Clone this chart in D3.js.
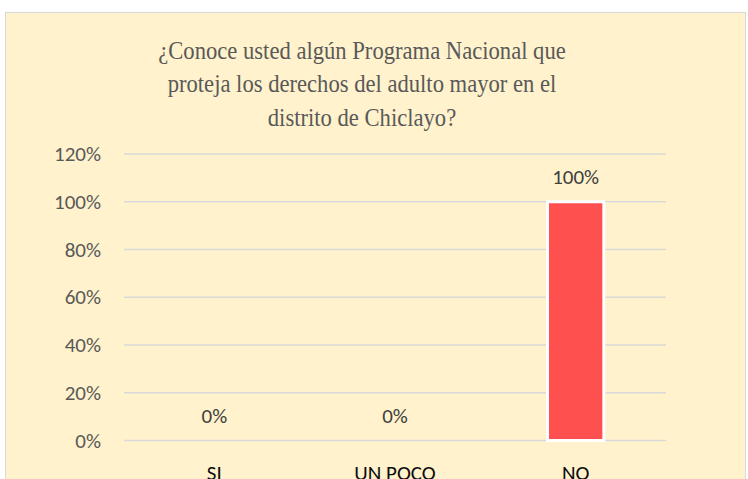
<!DOCTYPE html>
<html>
<head>
<meta charset="utf-8">
<script src="https://cdn.jsdelivr.net/npm/d3@7"></script>
<style>
  body { margin: 0; background: #fff; }
  svg { display: block; }
</style>
</head>
<body>
<svg id="chart" width="748" height="479"></svg>
<script>
const categories = ["SI", "UN POCO", "NO"];
const values = [0, 0, 1];
const yTicks = [0, 0.2, 0.4, 0.6, 0.8, 1.0, 1.2];
const titleLines = ["¿Conoce usted algún Programa Nacional que",
                    "proteja los derechos del adulto mayor en el",
                    "distrito de Chiclayo?"];

const svg = d3.select("#chart");
const plotLeft = 124, plotRight = 666, plotTop = 154, plotBottom = 440.5;
const sansFont = "Carlito, Lato, 'Open Sans', sans-serif";

// background panel
svg.append("rect")
    .attr("x", 5.5).attr("y", 12.5)
    .attr("width", 740).attr("height", 480)
    .attr("fill", "#fff2cc")
    .attr("stroke", "#d9d9d9")
    .attr("stroke-width", 1);

// title (serif, slightly condensed like the original)
let titleG = svg.append("g").attr("transform", "translate(362,0) scale(0.87,1)");
titleG.selectAll("text")
    .data(titleLines)
    .enter()
    .append("text")
    .attr("x", 0)
    .attr("y", (d, i) => 59.3 + i * 33.2)
    .attr("text-anchor", "middle")
    .style("font-family", "'Liberation Serif', 'Times New Roman', serif")
    .style("font-size", "26px")
    .style("fill", "#595959")
    .text(d => d);

let xScale = d3.scaleBand().domain(categories).range([plotLeft, plotRight]).paddingInner(0).paddingOuter(0);
let yScale = d3.scaleLinear().domain([0, 1.2]).range([plotBottom, plotTop]);

// gridlines
svg.append("g").selectAll("line")
    .data(yTicks)
    .enter()
    .append("line")
    .attr("x1", plotLeft).attr("x2", plotRight)
    .attr("y1", d => yScale(d)).attr("y2", d => yScale(d))
    .attr("stroke", "#d9d9d9")
    .attr("stroke-width", 1.3);

// y axis labels
let y_axis = d3.axisLeft(yScale).tickValues(yTicks).tickFormat(d3.format(".0%")).tickSize(0).tickPadding(23);
let yg = svg.append("g").attr("transform", `translate(${plotLeft},0)`).call(y_axis);
yg.select(".domain").remove();
yg.selectAll("text")
    .style("font-family", sansFont)
    .style("font-size", "21px")
    .style("fill", "#595959");

// x axis labels
let x_axis = d3.axisBottom(xScale).tickSize(0).tickPadding(0);
let xg = svg.append("g").attr("transform", `translate(0,${plotBottom})`).call(x_axis);
xg.select(".domain").remove();
xg.selectAll("text")
    .attr("dy", null)
    .attr("y", 39.5)
    .style("font-family", sansFont)
    .style("font-size", "21px")
    .style("fill", "#0d0d0d");

// bars
let barW = xScale.bandwidth() * 0.312;
svg.append("g").selectAll("rect")
    .data(values)
    .enter()
    .append("rect")
    .attr("x", (d, i) => xScale(categories[i]) + xScale.bandwidth() / 2 - barW / 2)
    .attr("y", d => yScale(d))
    .attr("width", barW)
    .attr("height", d => yScale(0) - yScale(d))
    .attr("fill", d => d > 0 ? "#ff5050" : "none")
    .attr("stroke", d => d > 0 ? "#ffffff" : "none")
    .attr("stroke-width", 3);

// data labels
svg.append("g").selectAll("text")
    .data(values)
    .enter()
    .append("text")
    .attr("x", (d, i) => xScale(categories[i]) + xScale.bandwidth() / 2)
    .attr("y", d => yScale(d) - 18)
    .attr("text-anchor", "middle")
    .style("font-family", sansFont)
    .style("font-size", "21px")
    .style("fill", "#404040")
    .text(d => d3.format(".0%")(d));
</script>
</body>
</html>
